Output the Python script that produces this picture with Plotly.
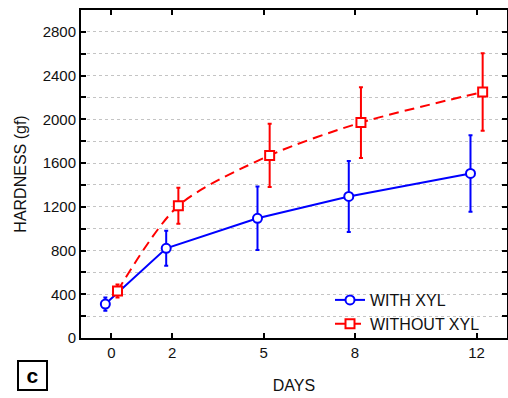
import plotly.graph_objects as go

days = [0, 2, 5, 8, 12]
with_xyl = [310, 820, 1095, 1295, 1505]
with_xyl_err = [60, 160, 290, 325, 350]
without_xyl = [430, 1210, 1670, 1970, 2250]
without_xyl_err = [60, 165, 290, 323, 355]
offset = 0.2

y_tickvals = list(range(0, 2801, 200))
y_ticktext = [str(v) if v % 400 == 0 else "" for v in y_tickvals]
x_tickvals = days
x_ticktext = [str(d) for d in days]

FONT = "Arial, Liberation Sans, sans-serif"

L, R, T, B = 81, 1, 10, 60
W, H = 508, 398
PW, PH = W - L - R, H - T - B

def px_x(px):
    return (px - L) / PW

def px_y(py):
    return (H - B - py) / PH

fig = go.Figure()
fig.add_trace(go.Scatter(
    x=[d - offset for d in days], y=with_xyl, name="WITH XYL",
    mode="lines+markers",
    line=dict(color="#0000ff", width=2),
    marker=dict(symbol="circle", size=9, color="white", line=dict(color="#0000ff", width=2)),
    error_y=dict(type="data", array=with_xyl_err, visible=True, color="#0000ff", thickness=2, width=2),
))
fig.add_trace(go.Scatter(
    x=[d + offset for d in days], y=without_xyl, name="WITHOUT XYL",
    mode="lines+markers",
    line=dict(color="#ff0000", width=2, dash="10px,6px", shape="spline", smoothing=0.8),
    marker=dict(symbol="square", size=9, color="white", line=dict(color="#ff0000", width=2)),
    error_y=dict(type="data", array=without_xyl_err, visible=True, color="#ff0000", thickness=2, width=2),
))

fig.update_layout(
    width=W, height=H,
    margin=dict(l=L, r=R, t=T, b=B, autoexpand=False),
    paper_bgcolor="white", plot_bgcolor="white",
    font=dict(family=FONT, size=15, color="#111111"),
    showlegend=True,
    legend=dict(x=px_x(330), y=px_y(283), xanchor="left", yanchor="top",
                bgcolor="rgba(0,0,0,0)", font=dict(size=16), tracegroupgap=0),
    xaxis=dict(
        range=[-1, 13], tickvals=x_tickvals, ticktext=x_ticktext,
        ticks="inside", ticklen=5, tickwidth=2, tickcolor="black",
        showline=True, linecolor="black", linewidth=2, mirror="ticks",
        showgrid=False, zeroline=False, automargin=False,
        title=dict(text="DAYS", standoff=20, font=dict(family=FONT, size=16, color="#111111")),
    ),
    yaxis=dict(
        range=[0, 3000], tickvals=y_tickvals, ticktext=y_ticktext,
        ticks="inside", ticklen=5, tickwidth=2, tickcolor="black",
        showline=True, linecolor="black", linewidth=2, mirror="ticks",
        showgrid=True, gridcolor="#c4c4c4", gridwidth=1, griddash="3px,3px",
        zeroline=False, automargin=False,
        title=dict(text="HARDNESS (gf)", standoff=12, font=dict(family=FONT, size=16, color="#111111")),
    ),
)

fig.add_annotation(
    x=px_x(32.5), y=px_y(375.5), xref="paper", yref="paper", text="<b>c</b>", showarrow=False,
    font=dict(size=21, family=FONT, color="black"),
    bordercolor="black", borderwidth=2, width=27, height=27, borderpad=0,
    xanchor="center", yanchor="middle",
)

fig.write_html("out.html", config={"displayModeBar": False},
               post_script="document.body.style.margin='0';")
